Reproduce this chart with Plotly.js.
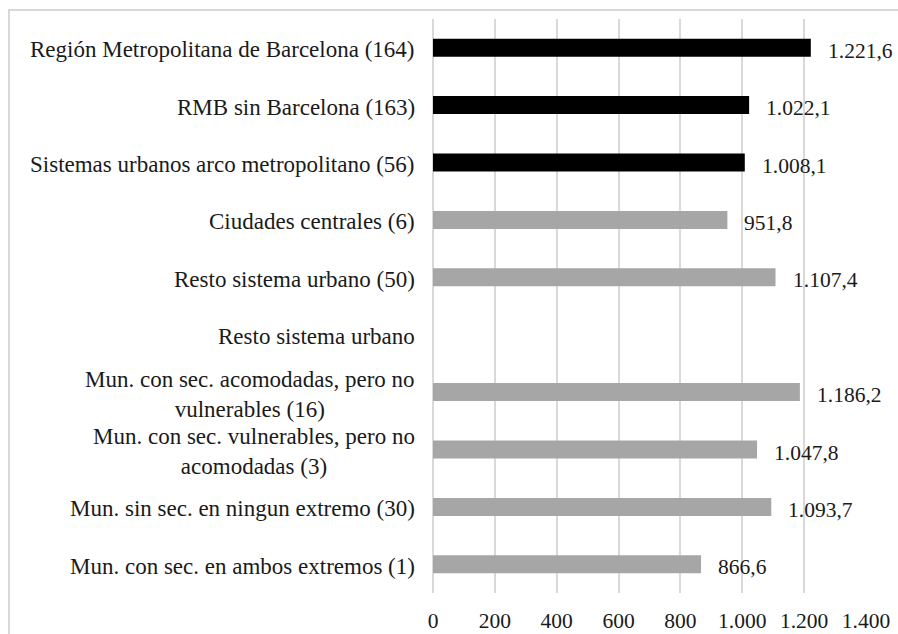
<!DOCTYPE html>
<html>
<head>
<meta charset="utf-8">
<script src="https://cdn.plot.ly/plotly-3.0.1.min.js"></script>
<style>
  html, body { margin: 0; padding: 0; background: #ffffff; }
  #frame { position: absolute; left: 8px; top: 9px; width: 1000px; height: 1000px;
           border-left: 2px solid #d9d9d9; border-top: 2px solid #d9d9d9; z-index: 0; }
  #chart { position: absolute; left: 0; top: 0; width: 898px; height: 634px; z-index: 1; }
</style>
</head>
<body>
<div id="frame"></div>
<div id="chart"></div>
<script>
// Data (top to bottom)
const categories = [
  "Región Metropolitana de Barcelona (164)",
  "RMB sin Barcelona (163)",
  "Sistemas urbanos arco metropolitano (56)",
  "Ciudades centrales (6)",
  "Resto sistema urbano (50)",
  "Resto sistema urbano",
  "Mun. con sec. acomodadas, pero no<br>vulnerables (16)",
  "Mun. con sec. vulnerables, pero no<br>acomodadas (3)",
  "Mun. sin sec. en ningun extremo (30)",
  "Mun. con sec. en ambos extremos (1)"
];
const values = [1221.6, 1022.1, 1008.1, 951.8, 1107.4, null, 1186.2, 1047.8, 1093.7, 866.6];
const groups = ["total", "total", "total", "sub", "sub", "sub", "sub", "sub", "sub", "sub"];
const xTicks = [0, 200, 400, 600, 800, 1000, 1200, 1400];

const colorMap = { total: "#000000", sub: "#a6a6a6" };

function fmt(v) {
  const parts = v.toFixed(1).split(".");
  return parts[0].replace(/\B(?=(\d{3})+(?!\d))/g, ".") + "," + parts[1];
}

const serif = "Liberation Serif";

const trace = {
  type: "bar",
  orientation: "h",
  x: values,
  y: categories,
  marker: { color: groups.map(g => colorMap[g]) },
  hoverinfo: "x+y"
};

const annotations = [];
categories.forEach((c, i) => {
  annotations.push({
    xref: "paper", yref: "y", x: 0, y: c,
    xanchor: "right", yanchor: "middle", align: "center",
    xshift: -16, yshift: -2,
    text: c, showarrow: false,
    font: { family: serif, size: 23, color: "#1a1a1a" }
  });
  if (values[i] !== null) {
    annotations.push({
      xref: "x", yref: "y", x: values[i], y: c,
      xanchor: "left", yanchor: "middle",
      xshift: 15, yshift: -3,
      text: fmt(values[i]), showarrow: false,
      font: { family: serif, size: 21.5, color: "#1a1a1a" }
    });
  }
});

const layout = {
  width: 898, height: 634,
  margin: { l: 433, r: 32, t: 19, b: 41, pad: 0 },
  paper_bgcolor: "rgba(0,0,0,0)",
  plot_bgcolor: "rgba(0,0,0,0)",
  separators: ",.",
  showlegend: false,
  bargap: 0.686,
  font: { family: serif, size: 21, color: "#1a1a1a" },
  xaxis: {
    range: [0, 1400],
    tickvals: xTicks,
    tickformat: ",",
    showgrid: true, gridcolor: "#d9d9d9", gridwidth: 2,
    zeroline: true, zerolinecolor: "#d9d9d9", zerolinewidth: 2,
    showline: false, ticks: "",
    ticklabelstandoff: 12,
    tickfont: { family: serif, size: 21.5, color: "#1a1a1a" },
    fixedrange: true
  },
  yaxis: {
    type: "category",
    autorange: "reversed",
    showticklabels: false,
    showgrid: false, zeroline: false, showline: false, ticks: "",
    fixedrange: true
  },
  annotations: annotations
};

Plotly.newPlot("chart", [trace], layout, { displayModeBar: false, staticPlot: true });
</script>
</body>
</html>
